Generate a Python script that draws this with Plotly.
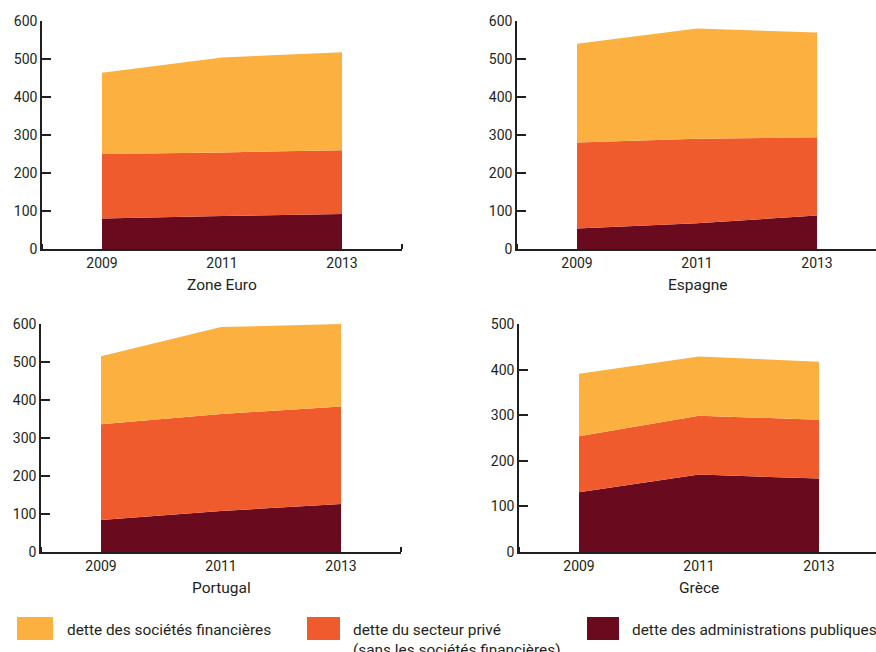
import plotly.graph_objects as go

# Données
annees = [2009, 2011, 2013]
pays = ["Zone Euro", "Espagne", "Portugal", "Grèce"]

# dette des administrations publiques
admin_publiques = {
    "Zone Euro": [80, 87, 92],
    "Espagne": [54, 68, 88],
    "Portugal": [84, 108, 126],
    "Grèce": [131, 170, 161],
}
# dette du secteur privé (sans les sociétés financières)
secteur_prive = {
    "Zone Euro": [170, 167, 168],
    "Espagne": [226, 222, 206],
    "Portugal": [252, 255, 257],
    "Grèce": [123, 129, 129],
}
# dette des sociétés financières
societes_fin = {
    "Zone Euro": [214, 250, 258],
    "Espagne": [260, 290, 276],
    "Portugal": [179, 229, 217],
    "Grèce": [137, 130, 127],
}
y_max = {"Zone Euro": 600, "Espagne": 600, "Portugal": 600, "Grèce": 500}

legende = ["dette des sociétés financières",
           "dette du secteur privé<br>(sans les sociétés financières)",
           "dette des administrations publiques"]

# Couleurs
c_fin = "#FBB040"
c_prive = "#EF5B2C"
c_admin = "#6A0A1E"
c_texte = "#231F20"
police = "Roboto"

W, H = 876, 652

# Position des panneaux (en pixels)
x_dom = {"Zone Euro": (42, 402), "Espagne": (517, 877),
         "Portugal": (41, 401), "Grèce": (519, 879)}
y_dom = {"Zone Euro": (21, 249), "Espagne": (21, 249),
         "Portugal": (324, 552), "Grèce": (324, 552)}


def px_x(v):
    return min(v / W, 1)


def px_y(v):
    return (H - v) / H


fig = go.Figure()
layout = {}

for i, p in enumerate(pays):
    n = "" if i == 0 else str(i + 1)
    xa, ya = "x" + n, "y" + n
    for vals, col in [(admin_publiques[p], c_admin),
                      (secteur_prive[p], c_prive),
                      (societes_fin[p], c_fin)]:
        fig.add_trace(go.Scatter(
            x=annees, y=vals, xaxis=xa, yaxis=ya,
            mode="lines", line=dict(width=0),
            stackgroup="g" + str(i), fillcolor=col,
            showlegend=False
        ))

    x0, x1 = x_dom[p]
    y0, y1 = y_dom[p]
    # la fin de l'axe peut dépasser le bord droit
    x_fin = 2008 + 6 * (min(x1, W) - x0) / (x1 - x0)
    layout["xaxis" + n] = dict(
        domain=[px_x(x0), px_x(x1)], anchor=ya, range=[2008, x_fin],
        tickvals=annees, ticks="", showgrid=False, zeroline=False,
        showline=True, linecolor=c_texte, linewidth=1.6, automargin=False,
        tickfont=dict(family=police, size=14, color=c_texte),
        minor=dict(tickvals=[2008, 2014], ticks="inside", ticklen=5,
                   tickwidth=1.6, tickcolor=c_texte),
    )
    layout["yaxis" + n] = dict(
        domain=[px_y(y1), px_y(y0)], anchor=xa,
        range=[0, y_max[p]], dtick=100, ticks="inside", ticklen=9,
        tickwidth=1.6, tickcolor=c_texte, showgrid=False, zeroline=False,
        showline=True, linecolor=c_texte, linewidth=1.6, automargin=False,
        tickfont=dict(family=police, size=14, color=c_texte),
    )
    # Titre du panneau sous l'axe
    fig.add_annotation(text=p, xref=xa, yref="paper", x=2011,
                       y=px_y(y1), yanchor="middle", yshift=-36,
                       showarrow=False,
                       font=dict(family=police, size=15.5, color=c_texte))

fig.update_layout(**layout)

# Légende dessinée à la main
leg_x = [(17, 53, 65), (307, 340, 351), (587, 619, 630)]
for (xa0, xa1, xt), col, lab in zip(leg_x, [c_fin, c_prive, c_admin], legende):
    fig.add_shape(type="rect", xref="paper", yref="paper",
                  x0=px_x(xa0), x1=px_x(xa1), y0=px_y(640), y1=px_y(617),
                  fillcolor=col, line=dict(width=0))
    fig.add_annotation(text=lab, xref="paper", yref="paper",
                       x=px_x(xt), y=px_y(619), xanchor="left",
                       yanchor="top", align="left", showarrow=False,
                       font=dict(family=police, size=15.4, color=c_texte))

fig.update_layout(
    width=W, height=H,
    margin=dict(l=0, r=0, t=0, b=0),
    paper_bgcolor="white", plot_bgcolor="white",
    showlegend=False,
)

# pas de marge autour de la figure dans la page, pas de barre d'outils
fig.write_html("out.html",
               config={"displayModeBar": False},
               post_script="document.body.style.margin='0';"
                           "document.body.style.overflow='hidden';")
